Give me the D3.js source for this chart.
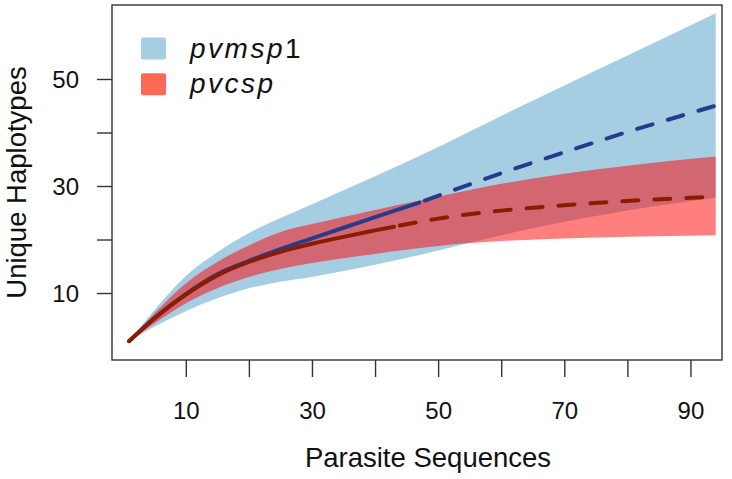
<!DOCTYPE html>
<html>
<head>
<meta charset="utf-8">
<script src="https://cdn.jsdelivr.net/npm/d3@7"></script>
<style>
  html, body { margin: 0; padding: 0; background: #ffffff; }
  svg { display: block; font-family: "Liberation Sans", Arial, Helvetica, sans-serif; }
</style>
</head>
<body>
<svg id="chart" width="732" height="479"></svg>
<script>
// ---- data ----
const seriesNames = ["pvmsp1", "pvcsp"];
const observedSize = [47, 43];

const mspX     = [1, 5, 10, 15, 20, 25, 30, 35, 40, 47, 55, 60, 70, 80, 94];
const mspEst   = [1, 5.3, 9.8, 13.5, 16.0, 18.2, 20.2, 22.2, 24.2, 26.9, 30.3, 32.4, 36.3, 40.1, 45.0];
const mspLower = [1, 3.7, 6.6, 9.0, 10.9, 12.1, 13.0, 14.1, 15.3, 17.1, 19.4, 20.8, 23.3, 25.4, 27.8];
const mspUpper = [1, 6.8, 13.2, 17.6, 21.2, 24.0, 26.6, 29.2, 31.8, 35.6, 40.2, 43.1, 48.8, 54.4, 62.3];

const cspX     = [1, 5, 10, 15, 20, 25, 30, 35, 40, 43, 50, 60, 70, 80, 94];
const cspEst   = [1, 5.2, 9.7, 13.3, 15.8, 17.7, 19.2, 20.5, 21.7, 22.4, 23.9, 25.4, 26.4, 27.2, 28.0];
const cspLower = [1, 4.3, 8.1, 10.9, 13.0, 14.5, 15.6, 16.5, 17.3, 17.8, 18.8, 19.7, 20.2, 20.5, 20.8];
const cspUpper = [1, 6.2, 11.8, 15.8, 18.9, 21.4, 22.9, 24.2, 25.5, 26.3, 28.0, 30.4, 32.3, 33.8, 35.5];

const xTickValues = [10, 20, 30, 40, 50, 60, 70, 80, 90];
const xTickLabels = [10, 30, 50, 70, 90];
const yTickValues = [10, 20, 30, 40, 50];
const yTickLabels = [10, 30, 50];

const xTitle = "Parasite Sequences";
const yTitle = "Unique Haplotypes";

// ---- layout ----
const svg = d3.select("#chart");
const L = 112, R = 722, T = 5, B = 360;

const x = d3.scaleLinear().domain([-1.7, 95]).range([L, R]);
const y = d3.scaleLinear().domain([-2.52, 63.83]).range([B, T]);

function rows(xs, est, lo, hi) {
  return xs.map((v, i) => ({ x: v, est: est[i], lo: lo[i], hi: hi[i] }));
}
const series = [
  { name: seriesNames[0], obs: observedSize[0], data: rows(mspX, mspEst, mspLower, mspUpper),
    band: "#a6cee3", bandOpacity: 1, line: "#263b8c", legend: "#a6cee3" },
  { name: seriesNames[1], obs: observedSize[1], data: rows(cspX, cspEst, cspLower, cspUpper),
    band: "#ff0000", bandOpacity: 0.5, line: "#8b1c00", legend: "#fc6a57" }
];

const area = d3.area().curve(d3.curveMonotoneX)
  .x(d => x(d.x)).y0(d => y(d.lo)).y1(d => y(d.hi));
const line = d3.line().curve(d3.curveMonotoneX)
  .x(d => x(d.x)).y(d => y(d.est));

const g = svg.append("g");
series.forEach(s => {
  g.append("path").attr("d", area(s.data))
    .attr("fill", s.band).attr("fill-opacity", s.bandOpacity).attr("stroke", "none");
});
series.forEach(s => {
  const interp = s.data.filter(d => d.x <= s.obs);
  const extrap = s.data.filter(d => d.x >= s.obs);
  g.append("path").attr("d", line(interp))
    .attr("fill", "none").attr("stroke", s.line).attr("stroke-width", 4)
    .attr("stroke-linecap", "round").attr("stroke-linejoin", "round");
  g.append("path").attr("d", line(extrap))
    .attr("fill", "none").attr("stroke", s.line).attr("stroke-width", 4)
    .attr("stroke-linecap", "round").attr("stroke-dasharray", "16,16")
    .attr("stroke-dashoffset", -6);
});

// frame
svg.append("rect").attr("x", L).attr("y", T).attr("width", R - L).attr("height", B - T)
  .attr("fill", "none").attr("stroke", "#333").attr("stroke-width", 1.4);

// axes
const xAxis = d3.axisBottom(x).tickValues(xTickValues).tickSize(17)
  .tickFormat(d => xTickLabels.includes(d) ? String(d) : "");
const gx = svg.append("g").attr("transform", `translate(0,${B})`).call(xAxis);
gx.select(".domain").remove();
gx.selectAll(".tick line").attr("stroke", "#333").attr("stroke-width", 1.4);
gx.selectAll(".tick text").attr("y", 59).attr("dy", 0)
  .attr("font-size", 24).attr("fill", "#111").attr("font-family", "Liberation Sans, Arial, sans-serif");

const yAxis = d3.axisLeft(y).tickValues(yTickValues).tickSize(15)
  .tickFormat(d => yTickLabels.includes(d) ? String(d) : "");
const gy = svg.append("g").attr("transform", `translate(${L},0)`).call(yAxis);
gy.select(".domain").remove();
gy.selectAll(".tick line").attr("stroke", "#333").attr("stroke-width", 1.4);
gy.selectAll(".tick text").attr("x", -33).attr("dy", "0.36em")
  .attr("font-size", 24).attr("fill", "#111").attr("font-family", "Liberation Sans, Arial, sans-serif");

// titles
svg.append("text").attr("x", 428).attr("y", 467).attr("text-anchor", "middle")
  .attr("font-size", 27.5).attr("fill", "#111").text(xTitle);
svg.append("text").attr("transform", "translate(26,182.5) rotate(-90)").attr("text-anchor", "middle")
  .attr("font-size", 27.5).attr("fill", "#111").text(yTitle);

// legend
const leg = svg.append("g");
series.forEach((s, i) => {
  const cy = 48.5 + i * 35.7;
  leg.append("rect").attr("x", 141).attr("y", cy - 11).attr("width", 25).attr("height", 22)
    .attr("rx", 2).attr("fill", s.legend);
  const t = leg.append("text").attr("x", 190).attr("y", cy + 9)
    .attr("font-size", 28).attr("fill", "#111").attr("letter-spacing", 2.5);
  const m = s.name.match(/^([a-z]+)(\d*)$/);
  t.append("tspan").attr("font-style", "italic").text(m[1]);
  if (m[2]) t.append("tspan").text(m[2]);
});
</script>
</body>
</html>
